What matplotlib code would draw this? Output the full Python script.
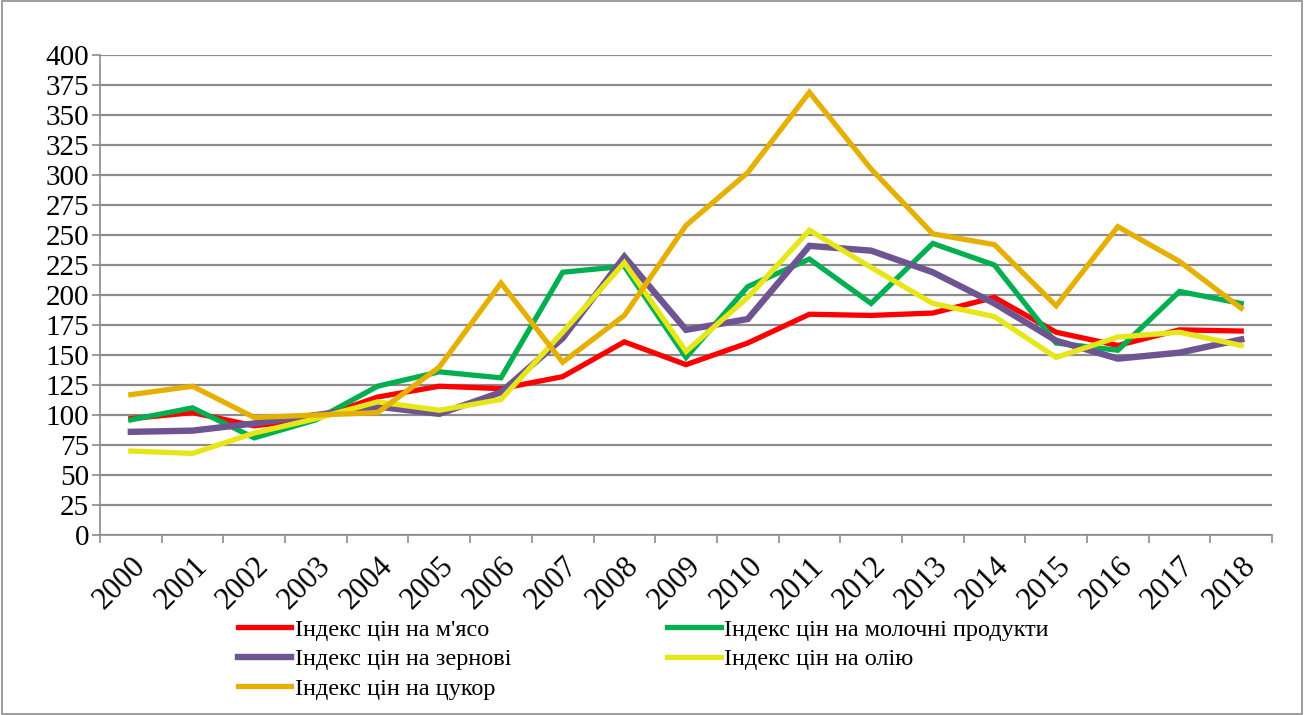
import matplotlib.pyplot as plt
from matplotlib.patches import Rectangle

years = [str(y) for y in range(2000, 2019)]

meat = [97, 102, 91, 97, 115, 124, 122, 132, 161, 142, 160, 184, 183, 185, 198, 169, 158, 171, 170]
dairy = [96, 106, 81, 96, 124, 136, 131, 219, 224, 148, 207, 230, 193, 243, 225, 160, 154, 203, 193]
grains = [86, 87, 93, 100, 107, 101, 119, 164, 232, 171, 180, 241, 237, 219, 193, 162, 147, 152, 163]
oil = [70, 68, 85, 97, 111, 104, 113, 169, 227, 153, 198, 254, 223, 193, 182, 148, 165, 169, 158]
sugar = [117, 124, 98, 100, 102, 140, 210, 144, 183, 258, 302, 369, 305, 251, 242, 191, 257, 228, 189]

labels = ["Індекс цін на м'ясо", "Індекс цін на молочні продукти",
          "Індекс цін на зернові", "Індекс цін на олію", "Індекс цін на цукор"]

plt.rcParams['font.family'] = 'serif'
plt.rcParams['font.serif'] = ['Liberation Serif', 'DejaVu Serif']

fig = plt.figure(figsize=(13.04, 7.15), dpi=100)
ax = fig.add_axes([0.0767, 0.2517, 0.8988, 0.6713])

# рамка навколо всієї діаграми
fig.patches.append(Rectangle((0.0015, 0.002), 0.997, 0.996, transform=fig.transFigure,
                             fill=False, ec='#8c8c8c', lw=1.2))

x = list(range(len(years)))
l1, = ax.plot(x, meat, color='#FF0000', lw=3.8, solid_joinstyle='miter')
l2, = ax.plot(x, dairy, color='#00B050', lw=3.8, solid_joinstyle='miter')
l3, = ax.plot(x, grains, color='#6E5591', lw=4.6, solid_joinstyle='miter')
l4, = ax.plot(x, oil, color='#E6E619', lw=3.8, solid_joinstyle='miter')
l5, = ax.plot(x, sugar, color='#E6B000', lw=3.8, solid_joinstyle='miter')

ax.set_xlim(-0.5, len(years) - 0.5)
ax.set_ylim(0, 400)
ax.set_yticks(range(0, 401, 25))
ax.yaxis.grid(True, color='#8c8c8c', lw=1.6)
ax.set_axisbelow(True)

ax.set_xticks([i - 0.5 for i in range(len(years) + 1)])
ax.set_xticklabels([])
ax.set_xticks(x, minor=True)
ax.set_xticklabels(years, minor=True, rotation=45, ha='right', va='top',
                   rotation_mode='anchor', fontsize=22)
ax.tick_params(axis='x', which='major', length=6, color='#8c8c8c', width=1.2)
ax.tick_params(axis='x', which='minor', length=0, pad=12)
ax.tick_params(axis='y', length=6, color='#8c8c8c', width=1.2, labelsize=21, pad=2)

for s in ['top', 'right']:
    ax.spines[s].set_visible(False)
for s in ['left', 'bottom']:
    ax.spines[s].set_color('#8c8c8c')
    ax.spines[s].set_linewidth(1.2)

leg = fig.legend([l1, l3, l5, l2, l4], [labels[0], labels[2], labels[4], labels[1], labels[3]],
                 ncol=2, loc='upper left', bbox_to_anchor=(0.175, 0.148), frameon=False,
                 fontsize=17.5, handlelength=2.2, handletextpad=0.15, columnspacing=6.4,
                 labelspacing=0.3, borderaxespad=0)

fig.savefig('out.png', dpi=100)
